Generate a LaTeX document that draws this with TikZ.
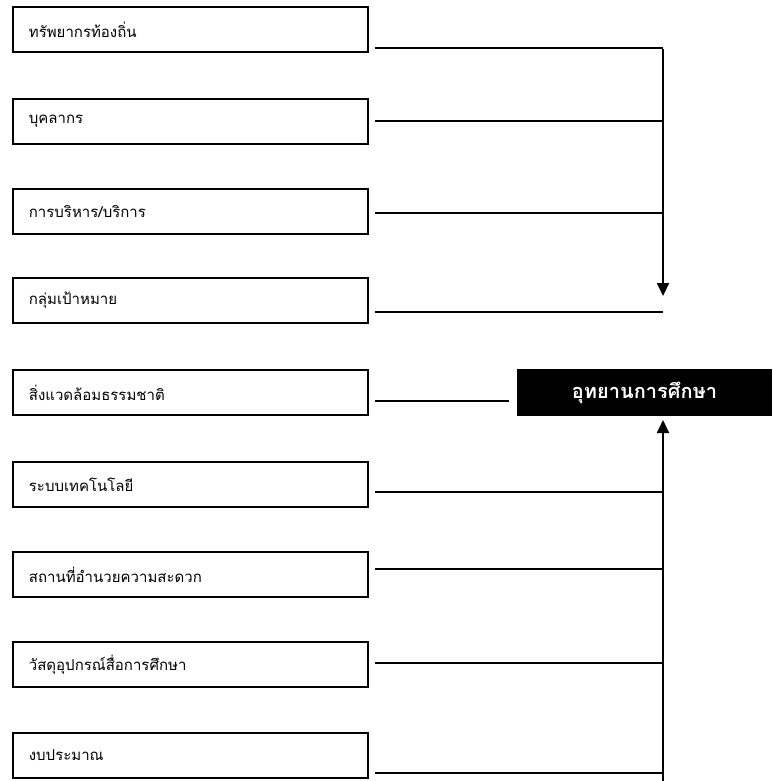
\documentclass[tikz,border=0pt]{standalone}
\usepackage{fontspec}
\newfontfamily\thaifont[Script=Thai]{Loma}
\usetikzlibrary{arrows.meta}
\begin{document}
\begin{tikzpicture}[x=1pt,y=-1pt,
  itembox/.style={draw=black,line width=1.8pt,minimum width=355pt,minimum height=45pt,
    text width=323pt,align=left,inner xsep=16pt,anchor=west,font=\thaifont\fontsize{15}{17}\selectfont},
  mainbox/.style={fill=black,text=white,minimum width=255pt,minimum height=47pt,inner sep=0pt,
    font=\thaifont\bfseries\fontsize{20}{22}\selectfont},
  link/.style={line width=1.8pt},
  arr/.style={line width=1.8pt,-{Triangle[length=13pt,width=12pt]}}]
\useasboundingbox (0,0) rectangle (772,781);
\fill[white] (0,0) rectangle (772,781);
% boxes
\node[itembox] (b1) at (12,29.5) {ทรัพยากรท้องถิ่น};
\node[itembox] (b2) at (12,121.5) {บุคลากร};
\node[itembox] (b3) at (12,211.5) {การบริหาร/บริการ};
\node[itembox] (b4) at (12,300.5) {กลุ่มเป้าหมาย};
\node[itembox] (b5) at (12,392.5) {สิ่งแวดล้อมธรรมชาติ};
\node[itembox] (b6) at (12,484.5) {ระบบเทคโนโลยี};
\node[itembox] (b7) at (12,574.5) {สถานที่อำนวยความสะดวก};
\node[itembox] (b8) at (12,664.5) {วัสดุอุปกรณ์สื่อการศึกษา};
\node[itembox] (b9) at (12,755.5) {งบประมาณ};
\node[mainbox] (m) at (644.5,392.5) {อุทยานการศึกษา};
% connector coordinates
\coordinate (s1) at (375,48);   \coordinate (e1) at (663,48);
\coordinate (s2) at (375,121);  \coordinate (e2) at (663,121);
\coordinate (s3) at (375,213);  \coordinate (e3) at (663,213);
\coordinate (s4) at (375,312);  \coordinate (e4) at (663,312);
\coordinate (s5) at (375,401);  \coordinate (e5) at (509,401);
\coordinate (s6) at (375,492);  \coordinate (e6) at (663,492);
\coordinate (s7) at (375,569);  \coordinate (e7) at (663,569);
\coordinate (s8) at (375,663);  \coordinate (e8) at (663,663);
\coordinate (s9) at (375,773);  \coordinate (e9) at (663,773);
\coordinate (tipd) at (663,296);
\coordinate (bot) at (663,781);
\coordinate (tipu) at (663,420);
% lines
\foreach \i in {1,...,9} \draw[link] (s\i) -- (e\i);
\draw[arr] ([yshift=-0.9pt]e1) -- (tipd);
\draw[arr] (bot) -- (tipu);
\end{tikzpicture}
\end{document}
